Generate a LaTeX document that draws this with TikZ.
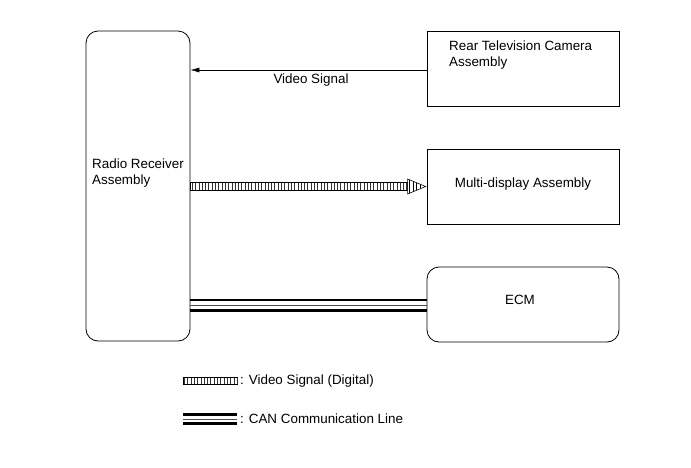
\documentclass[tikz,border=0pt]{standalone}
\usepackage{fontspec}
\setmainfont{Liberation Sans}
\usetikzlibrary{arrows.meta,calc}
\begin{document}
\begin{tikzpicture}[x=1pt,y=-1pt,
  every node/.style={font=\fontsize{13.4}{15.6}\selectfont, inner sep=0pt},
  blk/.style={draw, line width=0.8pt, minimum width=192pt, minimum height=75pt},
  rblk/.style={blk, rounded corners=12pt},
  hatchband/.style={draw, line width=0.6pt, fill=white},
  stripes/.style={line width=7pt, dash pattern=on 0.9pt off 2.4pt, black!80},
  canthick/.style={line width=2.2pt},
  canthin/.style={line width=0.7pt, black!70},
  sig/.style={line width=0.6pt, -{Latex[length=9pt,width=5pt]}}]
\useasboundingbox (0,0) rectangle (691,467);
% boxes
\node[draw, line width=0.8pt, rounded corners=12pt, minimum width=104pt, minimum height=310pt] (radio) at (138,186) {};
\node[anchor=base west, align=left] (radiotxt) at (92,184) {Radio Receiver\\Assembly};
\node[blk] (cam) at (523,68.5) {};
\node[anchor=base west, align=left] (camtxt) at (449,66) {Rear Television Camera\\Assembly};
\node[blk, text depth=7pt] (md) at (523,186.5) {Multi-display Assembly};
\node[rblk] (ecm) at (523,304.5) {};
\node (ecmtxt) at (520,299.5) {ECM};
% video signal
\coordinate (vs) at ($(cam.west)+(0,1.5)$);
\draw[sig] (vs) -- (vs -| radio.east);
\node (vlabel) at (311,80) {Video Signal};
% digital video
\coordinate (ds) at (radio.east |- md.west);
\coordinate (dh) at ($(md.west)+(-19,0)$);
\draw[hatchband] ($(ds)+(0,-4.5)$) rectangle ($(dh)+(0,4)$);
\draw[stripes] ($(ds)+(1.5,0)$) -- (dh);
\draw[line width=0.6pt, fill=white] ($(dh)+(0,-7.5)$) -- ($(md.west)+(-1,0)$) -- ($(dh)+(0,7.5)$) -- cycle;
\begin{scope}
\clip ($(dh)+(0,-7.5)$) -- ($(md.west)+(-1,0)$) -- ($(dh)+(0,7.5)$) -- cycle;
\foreach \d in {2,5.5,9,12.5}
  \draw[line width=0.7pt] ($(dh)+(\d,-8)$) -- ($(dh)+(\d,8)$);
\end{scope}
% CAN
\coordinate (cs) at (radio.east |- ecm.west);
\draw[canthick] ($(cs)+(0,-4.5)$) -- ($(ecm.west)+(0,-4.5)$);
\draw[canthin] ($(cs)+(0,0.5)$) -- ($(ecm.west)+(0,0.5)$);
\draw[canthick] ($(cs)+(0,6)$) -- ($(ecm.west)+(0,6)$);
% legend
\coordinate (l1a) at (183,381);
\coordinate (l1b) at (237,381);
\draw[hatchband] ($(l1a)+(0,-4)$) rectangle ($(l1b)+(0,3)$);
\draw[line width=6pt, dash pattern=on 0.9pt off 2.4pt, black!80] ($(l1a)+(1,-0.5)$) -- ($(l1b)+(0,-0.5)$);
\node[anchor=west] (leg1) at (240,381) {: Video Signal (Digital)};
\coordinate (l2a) at (183,419);
\coordinate (l2b) at (237,419);
\draw[canthick] ($(l2a)+(0,-4.5)$) -- ($(l2b)+(0,-4.5)$);
\draw[canthin] (l2a) -- (l2b);
\draw[canthick] ($(l2a)+(0,4.5)$) -- ($(l2b)+(0,4.5)$);
\node[anchor=west] (leg2) at (240,419) {: CAN Communication Line};
\end{tikzpicture}
\end{document}
